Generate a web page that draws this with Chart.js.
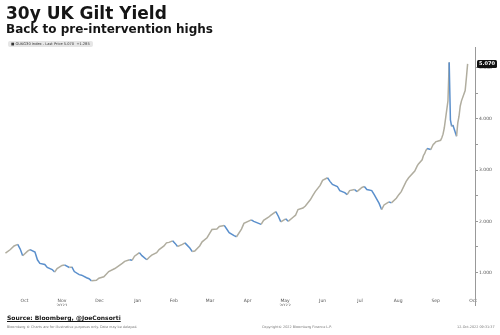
<!DOCTYPE html>
<html>
<head>
<meta charset="utf-8">
<script src="https://cdn.jsdelivr.net/npm/chart.js@4.4.1/dist/chart.umd.min.js"></script>
<style>
  body { margin: 0; width: 500px; height: 335px; background: #fff; position: relative; overflow: hidden; font-family: "DejaVu Sans", sans-serif; }
  #chart { position: absolute; left: 0; top: 0; }
  .txt { position: absolute; white-space: nowrap; line-height: 1; }
  #title { left: 6px; top: 5px; font-size: 17px; font-weight: bold; color: #151515; }
  #subtitle { left: 6px; top: 23px; font-size: 12px; font-weight: bold; color: #151515; }
  #legend { left: 8px; top: 41px; width: 85px; height: 6px; background: #e6e6e6; border-radius: 2px; font-size: 3.6px; color: #333; line-height: 6px; padding-left: 3px; box-sizing: border-box; }
  #source { left: 7px; top: 315px; font-size: 6px; font-weight: bold; color: #151515; text-decoration: underline; }
  .foot { top: 326px; font-size: 3.4px; color: #777; }
</style>
</head>
<body>
<canvas id="chart" width="500" height="335"></canvas>
<div class="txt" id="title">30y UK Gilt Yield</div>
<div class="txt" id="subtitle">Back to pre-intervention highs</div>
<div class="txt" id="legend">&#9632; GUKG30 Index - Last Price 5.070 &nbsp;+1.285</div>
<div class="txt" id="source">Source: Bloomberg, @JoeConsorti</div>
<div class="txt foot" style="left:7px;">Bloomberg &reg; Charts are for illustrative purposes only. Data may be delayed.</div>
<div class="txt foot" style="left:262px;">Copyright&copy; 2022 Bloomberg Finance L.P.</div>
<div class="txt foot" style="left:457px;">12-Oct-2022 09:31:37</div>
<script>
// 30y gilt yield
const dates = [
  '2021-10-01','2021-10-05','2021-10-08','2021-10-11','2021-10-13','2021-10-15','2021-10-19','2021-10-21','2021-10-25','2021-10-27','2021-10-29',
  '2021-11-02','2021-11-04','2021-11-08','2021-11-10','2021-11-12','2021-11-16','2021-11-18','2021-11-22','2021-11-24','2021-11-26','2021-11-30',
  '2021-12-02','2021-12-06','2021-12-08','2021-12-10','2021-12-14','2021-12-16','2021-12-20','2021-12-22','2021-12-24','2021-12-29',
  '2022-01-04','2022-01-06','2022-01-10','2022-01-12','2022-01-14','2022-01-18','2022-01-20','2022-01-24','2022-01-26','2022-01-28',
  '2022-02-01','2022-02-03','2022-02-07','2022-02-09','2022-02-11','2022-02-14','2022-02-16','2022-02-18','2022-02-22','2022-02-24','2022-02-28',
  '2022-03-02','2022-03-04','2022-03-08','2022-03-10','2022-03-14','2022-03-16','2022-03-18','2022-03-22','2022-03-24','2022-03-28','2022-03-30',
  '2022-04-01','2022-04-05','2022-04-07','2022-04-11','2022-04-13','2022-04-19','2022-04-21','2022-04-25','2022-04-27','2022-04-29',
  '2022-05-03','2022-05-05','2022-05-09','2022-05-11','2022-05-13','2022-05-17','2022-05-19','2022-05-23','2022-05-25','2022-05-27','2022-05-31',
  '2022-06-02','2022-06-06','2022-06-08','2022-06-10','2022-06-14','2022-06-16','2022-06-20','2022-06-22','2022-06-24','2022-06-28','2022-06-30',
  '2022-07-04','2022-07-06','2022-07-08','2022-07-12','2022-07-14','2022-07-18','2022-07-20','2022-07-22','2022-07-26','2022-07-28',
  '2022-08-01','2022-08-03','2022-08-05','2022-08-09','2022-08-11','2022-08-15','2022-08-17','2022-08-19','2022-08-23','2022-08-25','2022-08-30',
  '2022-09-01','2022-09-02','2022-09-05','2022-09-06','2022-09-07','2022-09-08','2022-09-09','2022-09-12','2022-09-13','2022-09-14','2022-09-15',
  '2022-09-16','2022-09-20','2022-09-21','2022-09-22','2022-09-23','2022-09-26','2022-09-27','2022-09-28','2022-09-29','2022-09-30',
  '2022-10-03','2022-10-04','2022-10-05','2022-10-06','2022-10-07','2022-10-10','2022-10-11','2022-10-12'
];
const yields = [
  1.38, 1.45, 1.52, 1.55, 1.46, 1.33, 1.42, 1.45, 1.40, 1.25, 1.18,
  1.16, 1.10, 1.06, 1.01, 1.08, 1.14, 1.15, 1.10, 1.11, 1.02, 0.96,
  0.95, 0.90, 0.88, 0.84, 0.85, 0.89, 0.92, 0.97, 1.02, 1.08,
  1.18, 1.22, 1.25, 1.24, 1.32, 1.39, 1.33, 1.25, 1.30, 1.34,
  1.39, 1.45, 1.52, 1.58, 1.59, 1.62, 1.57, 1.51, 1.55, 1.58, 1.48,
  1.41, 1.42, 1.52, 1.60, 1.68, 1.76, 1.84, 1.85, 1.90, 1.92, 1.85,
  1.78, 1.72, 1.70, 1.85, 1.96, 2.03, 2.00, 1.96, 1.94, 2.02,
  2.08, 2.12, 2.19, 2.10, 1.99, 2.05, 2.00, 2.08, 2.12, 2.23, 2.26,
  2.30, 2.42, 2.50, 2.58, 2.70, 2.80, 2.85, 2.78, 2.72, 2.68, 2.60,
  2.56, 2.52, 2.60, 2.62, 2.58, 2.66, 2.68, 2.62, 2.60, 2.52,
  2.35, 2.23, 2.32, 2.38, 2.36, 2.45, 2.52, 2.58, 2.78, 2.85, 2.98,
  3.08, 3.12, 3.20, 3.28, 3.32, 3.38, 3.42, 3.40, 3.45, 3.50, 3.52,
  3.55, 3.58, 3.63, 3.70, 3.82, 4.35, 5.10, 3.98, 3.85, 3.88,
  3.66, 3.92, 4.05, 4.25, 4.35, 4.55, 4.80, 5.07
];
const months = ['2021-10','2021-11','2021-12','2022-01','2022-02','2022-03','2022-04','2022-05','2022-06','2022-07','2022-08','2022-09','2022-10'];
const monthLabels = [['Oct'],['Nov','2021'],['Dec'],['Jan'],['Feb'],['Mar'],['Apr'],['May','2022'],['Jun'],['Jul'],['Aug'],['Sep'],['Oct']];
const yTicks = [1, 1.5, 2, 2.5, 3, 3.5, 4, 4.5, 5];

const DAY = 86400000;
const origin = Date.UTC(2021, 9, 1);
function dayOf(s) {
  const p = s.split('-').map(Number);
  return (Date.UTC(p[0], p[1] - 1, p[2] || 1) - origin) / DAY;
}
const points = dates.map((d, i) => ({ x: dayOf(d), y: yields[i] }));
// month labels sit in the middle of each month
const monthMids = months.map(m => {
  const p = m.split('-').map(Number);
  return ((Date.UTC(p[0], p[1] - 1, 1) + Date.UTC(p[0], p[1], 1)) / 2 - origin) / DAY;
});
const lastPrice = yields[yields.length - 1];

// black box with last value on the right axis, and the axis line running past the labels
const extras = {
  id: 'extras',
  afterDraw(chart) {
    const ctx = chart.ctx, a = chart.chartArea;
    ctx.save();
    ctx.strokeStyle = '#999';
    ctx.lineWidth = 1;
    ctx.beginPath();
    ctx.moveTo(a.right + 0.5, a.bottom);
    ctx.lineTo(a.right + 0.5, 306);
    ctx.stroke();
    const y = chart.scales.y.getPixelForValue(lastPrice);
    ctx.fillStyle = '#111';
    ctx.beginPath();
    ctx.roundRect(a.right + 2, y - 4, 20, 8, 1.5);
    ctx.fill();
    ctx.fillStyle = '#fff';
    ctx.font = 'bold 5px "DejaVu Sans"';
    ctx.textAlign = 'center';
    ctx.textBaseline = 'middle';
    ctx.fillText(lastPrice.toFixed(3), a.right + 12, y);
    ctx.restore();
  }
};

new Chart(document.getElementById('chart'), {
  type: 'line',
  data: {
    datasets: [{
      data: points,
      borderWidth: 1.5,
      pointRadius: 0,
      tension: 0,
      borderColor: '#b0ad9f',
      segment: {
        borderColor: c => c.p1.parsed.y < c.p0.parsed.y ? '#5a8fcc' : '#b0ad9f'
      }
    }]
  },
  options: {
    responsive: false,
    animation: false,
    layout: { padding: { left: 3, top: 47, right: 0, bottom: 29 } },
    plugins: { legend: { display: false }, tooltip: { enabled: false } },
    scales: {
      x: {
        type: 'linear',
        min: -2,
        max: 382,
        afterBuildTicks: s => { s.ticks = monthMids.map(v => ({ value: v })); },
        afterFit: s => { s.height = 18; },
        grid: { display: false },
        border: { display: false },
        ticks: {
          autoSkip: false,
          maxRotation: 0,
          padding: 2,
          color: '#555',
          font: { family: 'DejaVu Sans', size: 4.5 },
          callback: (v, i) => monthLabels[i]
        }
      },
      y: {
        position: 'right',
        min: 0.7,
        max: 5.4,
        afterBuildTicks: s => { s.ticks = yTicks.map(v => ({ value: v })); },
        afterFit: s => { s.width = 25; },
        grid: { drawOnChartArea: false, drawTicks: true, tickLength: 3, color: '#999' },
        border: { display: true, color: '#999' },
        ticks: {
          padding: 1,
          color: '#555',
          font: { family: 'DejaVu Sans', size: 4.5 },
          callback: v => Number.isInteger(v) ? v.toFixed(3) : ''
        }
      }
    }
  },
  plugins: [extras]
});
</script>
</body>
</html>
